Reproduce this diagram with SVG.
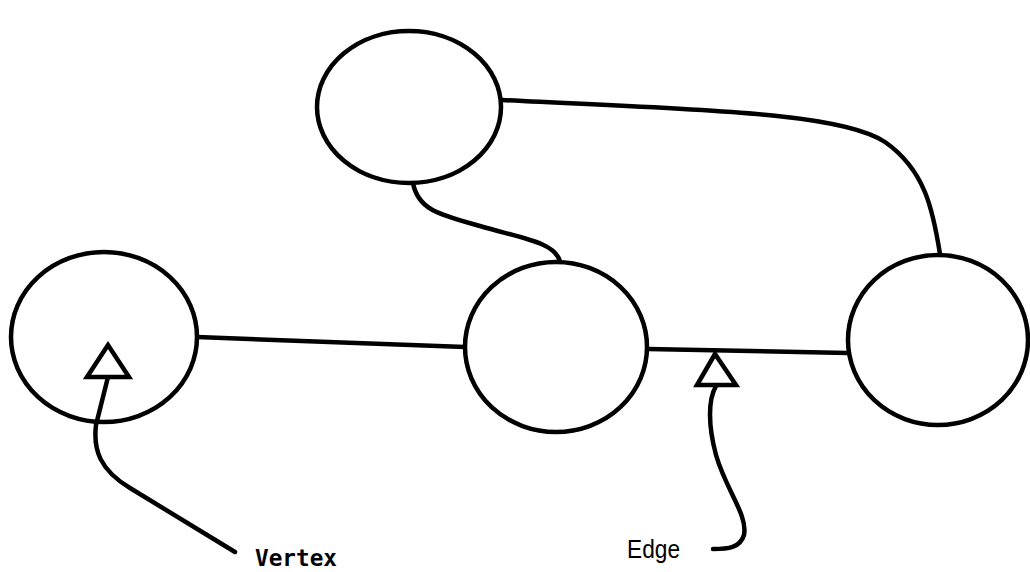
<svg xmlns="http://www.w3.org/2000/svg" width="1030" height="572" viewBox="0 0 1030 572">
  <style>
    .node { fill: #ffffff; stroke: #000000; stroke-width: 4.5; }
    .edge { fill: none; stroke: #000000; stroke-width: 4.5; stroke-linecap: round; }
    .pointer { fill: #ffffff; stroke: #000000; stroke-width: 4.5; stroke-linejoin: miter; }
    .label-mono { font-family: "DejaVu Sans Mono", "Liberation Mono", monospace; font-weight: bold; font-size: 23px; fill: #000000; }
    .label-sans { font-family: "Liberation Sans", Arial, sans-serif; font-size: 25px; fill: #000000; }
  </style>
  <rect width="1030" height="572" fill="#ffffff"/>

  <!-- connectors between vertices -->
  <g id="connectors">
    <path class="edge" d="M197 337 L465 347"/>
    <path class="edge" d="M648 349 L848 353"/>
    <path class="edge" d="M413 183 C 418 210, 440 215, 480 226 C 520 238, 556 242, 560 262"/>
    <path class="edge" d="M502 100 C 700 110, 840 112, 885 142 C 925 170, 933 210, 940 254"/>
  </g>

  <!-- vertices -->
  <g id="node-top">
    <ellipse class="node" cx="409" cy="107" rx="92" ry="76"/>
  </g>
  <g id="node-left">
    <ellipse class="node" cx="104" cy="337" rx="93" ry="85"/>
  </g>
  <g id="node-middle">
    <ellipse class="node" cx="556" cy="347" rx="91" ry="85"/>
  </g>
  <g id="node-right">
    <ellipse class="node" cx="938" cy="340" rx="90" ry="85"/>
  </g>

  <!-- callout: Vertex -->
  <g id="callout-vertex">
    <path class="edge" d="M108 377 L96 425 C 93 450, 100 470, 130 488 L235 552"/>
    <polygon class="pointer" points="108,345 87,377 129,377"/>
    <text class="label-mono" x="255" y="566" textLength="82" lengthAdjust="spacingAndGlyphs">Vertex</text>
  </g>

  <!-- callout: Edge -->
  <g id="callout-edge">
    <path class="edge" d="M716 386 C 708 400, 708 425, 716 455 C 726 490, 748 515, 744 535 C 740 548, 728 549, 713 549"/>
    <polygon class="pointer" points="715,354 697,385 736,385"/>
    <text class="label-sans" x="627" y="558" textLength="53" lengthAdjust="spacingAndGlyphs">Edge</text>
  </g>
</svg>
